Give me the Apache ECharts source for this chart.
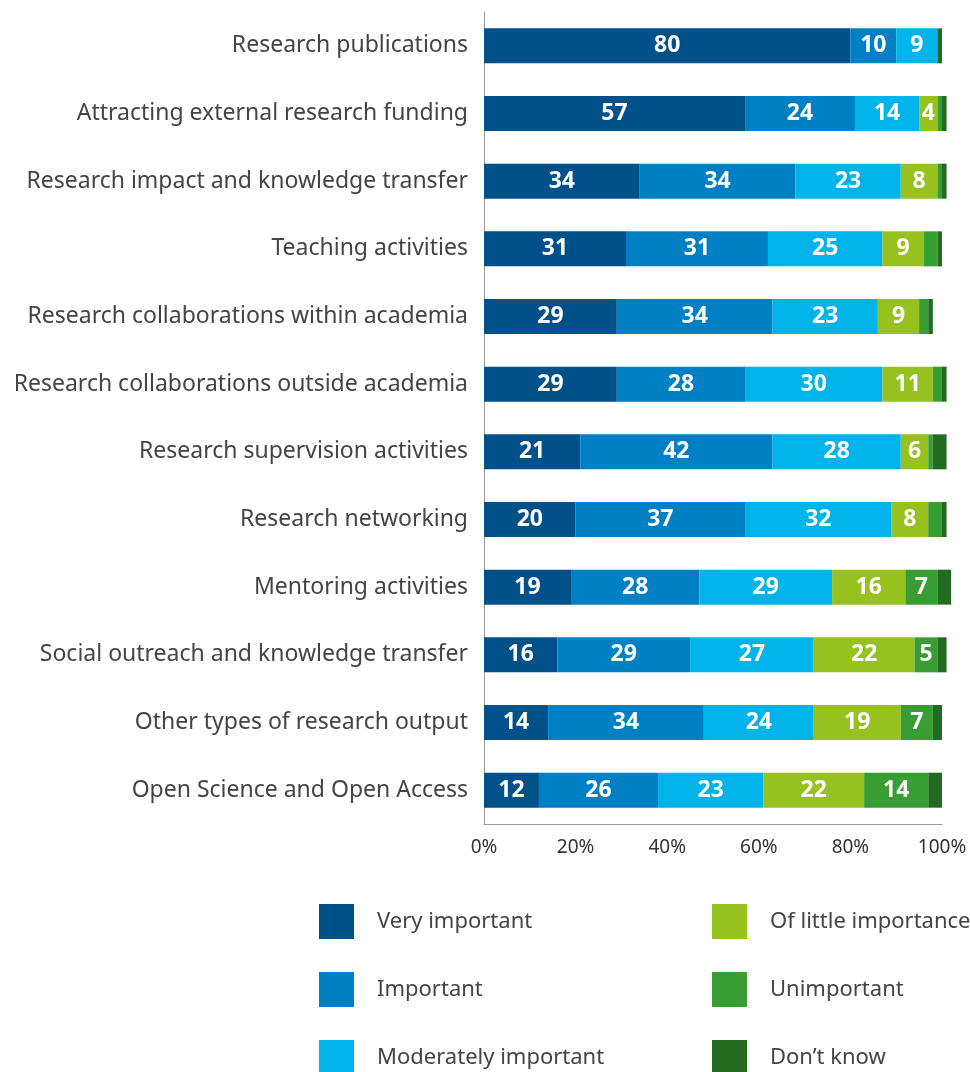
<!DOCTYPE html>
<html><head><meta charset="utf-8">
<script src="https://cdn.jsdelivr.net/npm/echarts@6/dist/echarts.min.js"></script>
<style>html,body{margin:0;padding:0;background:#fff}#c{width:970px;height:1072px}</style>
</head><body><div id="c"></div>
<script>
const categories = [
  "Research publications",
  "Attracting external research funding",
  "Research impact and knowledge transfer",
  "Teaching activities",
  "Research collaborations within academia",
  "Research collaborations outside academia",
  "Research supervision activities",
  "Research networking",
  "Mentoring activities",
  "Social outreach and knowledge transfer",
  "Other types of research output",
  "Open Science and Open Access"
];
const veryImportant = [80, 57, 34, 31, 29, 29, 21, 20, 19, 16, 14, 12];
const important = [10, 24, 34, 31, 34, 28, 42, 37, 28, 29, 34, 26];
const moderatelyImportant = [9, 14, 23, 25, 23, 30, 28, 32, 29, 27, 24, 23];
const ofLittleImportance = [0, 4, 8, 9, 9, 11, 6, 8, 16, 22, 19, 22];
const unimportant = [0, 1, 1, 3, 2, 2, 1, 3, 7, 5, 7, 14];
const dontKnow = [1, 1, 1, 1, 1, 1, 3, 1, 3, 2, 2, 3];
const seriesNames = ["Very important", "Important", "Moderately important", "Of little importance", "Unimportant", "Don\u2019t know"];
const xTicks = [0, 20, 40, 60, 80, 100];

const colors = ["#00508a", "#0080c4", "#00b4ea", "#97c11f", "#389e34", "#246b22"];
const seriesData = [veryImportant, important, moderatelyImportant, ofLittleImportance, unimportant, dontKnow];
const FONT = "Noto Sans";

const chart = echarts.init(document.getElementById('c'), null, {renderer: 'canvas'});
const series = seriesNames.map((name, i) => ({
  name: name,
  type: 'bar',
  stack: 'total',
  barWidth: 35,
  clip: false,
  itemStyle: {color: colors[i]},
  label: {
    show: true,
    position: 'inside',
    color: '#fff',
    fontFamily: FONT,
    fontWeight: 'bold',
    fontSize: 23,
    formatter: p => (p.value >= 4 ? String(p.value) : '')
  },
  emphasis: {disabled: true},
  data: seriesData[i]
}));

const legendText = {fontFamily: FONT, fontSize: 22, color: '#444', padding: [2, 0, 0, 18]};
const legendPos = [[319, 904], [319, 972], [319, 1040], [712, 904], [712, 972], [712, 1040]];
const legends = seriesNames.map((n, i) => ({
  data: [n], orient: 'vertical', left: legendPos[i][0], top: legendPos[i][1], padding: 0,
  itemWidth: 35, itemHeight: 35, icon: 'rect', textStyle: legendText, selectedMode: false
}));

chart.setOption({
  animation: false,
  color: colors,
  grid: {left: 484, right: 28, top: 12, bottom: 248, containLabel: false},
  xAxis: {
    type: 'value', min: 0, max: 100, interval: 20,
    axisLine: {show: true, lineStyle: {color: '#999', width: 1}},
    axisTick: {show: false},
    splitLine: {show: false},
    axisLabel: {formatter: v => xTicks.includes(v) ? v + '%' : '', fontFamily: FONT, fontSize: 19, color: '#333', margin: 14}
  },
  yAxis: {
    type: 'category', data: categories, inverse: true,
    axisLine: {show: true, lineStyle: {color: '#999', width: 1}},
    axisTick: {show: false},
    axisLabel: {fontFamily: FONT, fontSize: 23, color: '#444', margin: 16}
  },
  legend: legends,
  series: series
});
</script></body></html>
